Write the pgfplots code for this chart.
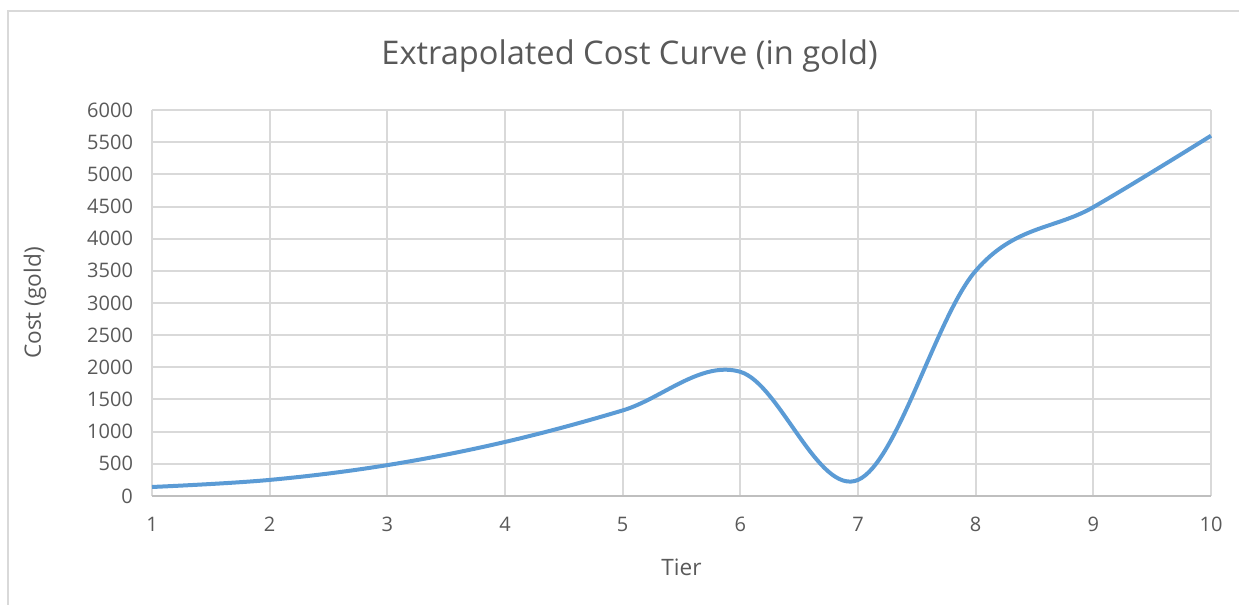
\documentclass[border=0pt]{standalone}
\usepackage{pgfplots}
\pgfplotsset{compat=1.18}
\usepackage{fontspec}
\setmainfont{Open Sans}
\definecolor{txt}{HTML}{595959}
\definecolor{grd}{HTML}{D9D9D9}
\definecolor{axl}{HTML}{BFBFBF}
\definecolor{ser}{HTML}{5B9BD5}
\begin{document}
\begin{tikzpicture}
\useasboundingbox (0,0) rectangle (619.5pt,302.5pt);
\draw[grd, line width=0.6pt] (4pt,-2pt) -- (4pt,297pt) -- (625pt,297pt);
\begin{axis}[
  at={(76pt,54.5pt)}, anchor=south west,
  scale only axis, width=529.5pt, height=193pt,
  xmin=1, xmax=10, ymin=0, ymax=6000,
  xtick={1,...,10}, ytick={0,500,...,6000},
  grid=major, major grid style={grd, line width=1pt},
  axis line style={draw=none},
  tick style={draw=none},
  axis x line*=bottom, axis y line*=left,
  ticklabel style={font=\fontsize{10pt}{12pt}\selectfont, text=txt},
  /pgf/number format/assume math mode=true,
  scaled y ticks=false,
  yticklabel style={/pgf/number format/set thousands separator={}, xshift=-6pt},
  xticklabel style={yshift=-7pt},
  title={Extrapolated Cost Curve (in gold)},
  title style={font=\fontsize{16.3pt}{19pt}\selectfont, text=txt, at={(axis description cs:0.451,1.109)}, anchor=center},
  xlabel={Tier}, ylabel={Cost (gold)},
  label style={font=\fontsize{11.3pt}{13pt}\selectfont, text=txt},
  xlabel style={at={(axis description cs:0.5,-0.184)}, anchor=center},
  ylabel style={at={(axis description cs:-0.1105,0.5)}, anchor=center, rotate=0},
  clip=false,
]
\draw[axl, line width=1pt] (axis cs:1,0) -- (axis cs:10,0);
\addplot[ser, line width=2pt, smooth, tension=0.6] coordinates {
(1,140) (2,250) (3,480) (4,840) (5,1330) (6,1930) (7,250) (8,3500) (9,4490) (10,5600)
};
\end{axis}
\end{tikzpicture}
\end{document}
